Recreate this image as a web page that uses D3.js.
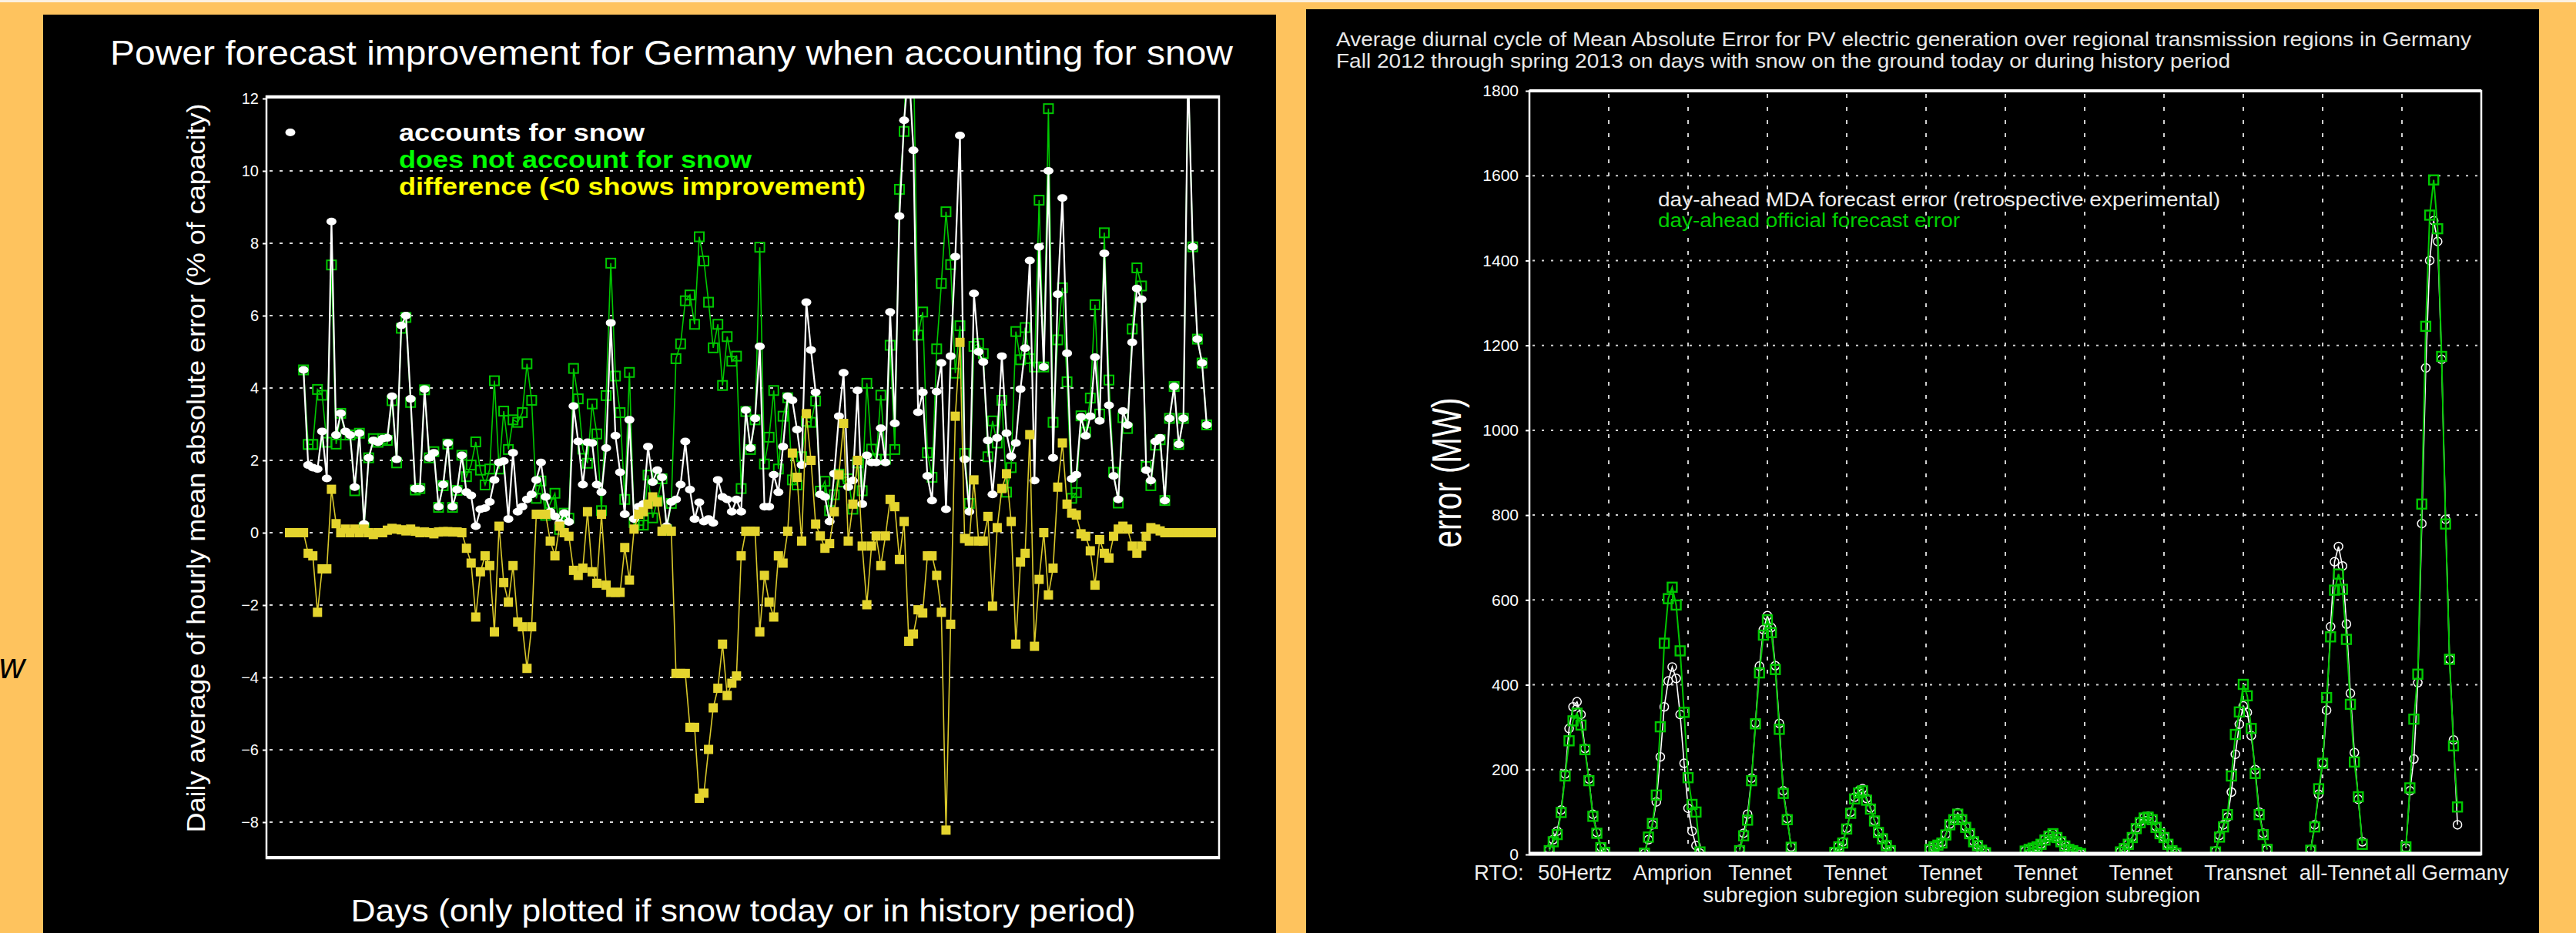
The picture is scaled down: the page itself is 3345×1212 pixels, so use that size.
<!DOCTYPE html>
<html>
<head>
<meta charset="utf-8">
<script src="https://cdn.jsdelivr.net/npm/d3@7"></script>
<style>
  html, body { margin: 0; padding: 0; background: #FEC35E; }
  svg { display: block; }
</style>
</head>
<body>
<svg id="chart" width="3345" height="1212"></svg>
<script>
// ---------- Left panel: daily mean absolute error (% of capacity) ----------
const accountsForSnow = [
  null, null, null, 4.5, 1.87, 1.8, 1.76, 2.8, 1.5, 8.6,
  2.7, 3.3, 2.8, 2.7, 1.26, 2.75, 0.24, 2.07, 2.55, 2.5,
  2.6, 2.62, 3.77, 2.03, 5.73, 6.0, 3.7, 1.22, 1.22, 3.97,
  2.07, 2.21, 0.72, 1.33, 2.48, 0.72, 1.19, 2.14, 1.12, 1.03,
  0.18, 0.65, 0.68, 0.85, 1.46, 1.94, 1.98, 0.38, 2.21, 0.58,
  0.72, 0.92, 1.06, 1.46, 1.94, 0.99, 0.58, 0.45, 0.27, 0.54,
  0.3, 3.5, 2.52, 1.33, 2.5, 2.48, 1.33, 1.12, 2.34, 5.8,
  2.68, 1.67, 0.51, 3.12, 0.38, 0.72, 0.79, 2.38, 1.4, 1.73,
  1.53, 0.18, 0.85, 0.92, 1.33, 2.52, 1.19, 0.38, 0.84, 0.31,
  0.38, 0.27, 1.46, 0.99, 0.92, 0.58, 0.92, 0.58, 3.39, 2.34,
  3.16, 5.15, 0.72, 0.72, 1.6, 1.12, 2.38, 3.77, 3.66, 2.85,
  1.87, 6.37, 5.05, 3.88, 1.06, 0.99, 0.31, 1.63, 3.22, 4.42,
  1.26, 1.44, 3.93, 0.79, 2.14, 1.94, 1.94, 2.89, 1.94, 6.1,
  3.02, 8.75, 11.4, 12.9, 10.57, 3.33, 3.88, 1.57, 0.89, 3.9,
  4.69, 0.65, 4.88, 7.63, 10.98, 2.03, 0.58, 6.61, 5.0, 4.72,
  2.55, 1.06, 2.62, 4.88, 2.75, 2.11, 2.48, 3.97, 5.1, 7.52,
  1.44, 7.9, 4.58, 10.0, 2.07, 6.59, 9.25, 4.96, 1.49, 1.6,
  3.2, 2.68, 3.22, 4.85, 3.09, 7.72, 3.52, 1.57, 0.92, 3.36,
  2.98, 5.26, 6.75, 6.45, 1.73, 1.44, 2.52, 2.62, 0.89, 3.16,
  4.04, 2.44, 3.16, 12.8, 7.9, 5.35, 4.69, 2.98, null
];
const withoutSnow = [
  null, null, null, 4.5, 2.44, 2.44, 3.96, 3.8, 2.5, 7.4,
  2.45, 3.3, 2.7, 2.7, 1.16, 2.75, 0.14, 2.07, 2.6, 2.5,
  2.6, 2.55, 3.65, 1.93, 5.65, 5.95, 3.6, 1.18, 1.22, 3.95,
  2.07, 2.24, 0.7, 1.3, 2.45, 0.7, 1.17, 2.14, 1.55, 1.87,
  2.51, 1.73, 1.32, 1.76, 4.2, 1.76, 3.36, 2.3, 3.12, 3.05,
  3.32, 4.67, 3.66, 0.95, 1.43, 0.48, 0.81, 1.09, 0.09, 0.54,
  0.4, 4.54, 3.7, 2.31, 1.92, 3.56, 2.73, 0.61, 3.79, 7.45,
  4.33, 3.32, 0.92, 4.43, 0.28, 0.21, 0.21, 1.59, 0.41, 0.88,
  1.49, 0.08, 0.81, 4.81, 5.22, 6.41, 6.57, 5.76, 8.18, 7.51,
  6.37, 5.11, 5.76, 4.07, 5.42, 4.74, 4.88, 1.22, 3.35, 2.3,
  3.12, 7.89, 1.9, 2.64, 3.93, 1.76, 3.22, 3.73, 1.46, 1.32,
  2.1, 3.08, 3.05, 3.64, 1.15, 1.42, 0.61, 1.05, 1.62, 1.4,
  1.49, 0.65, 1.93, 1.16, 4.13, 2.31, 2.03, 3.8, 2.03, 5.18,
  2.3, 9.49, 11.09, 15.9, 13.37, 5.46, 6.1, 2.21, 1.53, 5.08,
  6.89, 8.87, 7.41, 4.41, 5.72, 2.19, 0.81, 5.15, 5.23, 4.95,
  2.1, 3.09, 2.48, 3.66, 1.12, 1.8, 5.56, 4.78, 5.67, 4.81,
  4.58, 9.19, 4.58, 11.72, 3.05, 5.33, 6.77, 4.17, 0.95, 1.11,
  3.23, 2.78, 3.72, 6.3, 3.28, 8.29, 4.22, 1.67, 0.82, 3.18,
  2.88, 5.63, 7.32, 6.82, 1.83, 1.3, 2.42, 2.57, 0.89, 3.16,
  4.04, 2.44, 3.16, 12.8, 7.9, 5.35, 4.69, 2.98, null
];
const difference = [
  0, 0, 0, 0, -0.57, -0.64, -2.2, -1.0, -1.0, 1.2,
  0.25, 0, 0.1, 0, 0.1, 0, 0.1, 0, -0.05, 0,
  0, 0.07, 0.12, 0.1, 0.08, 0.05, 0.1, 0.04, 0, 0.02,
  0, -0.03, 0.02, 0.03, 0.03, 0.02, 0.02, 0, -0.43, -0.84,
  -2.33, -1.08, -0.64, -0.91, -2.74, 0.18, -1.38, -1.92, -0.91, -2.47,
  -2.6, -3.75, -2.6, 0.51, 0.51, 0.51, -0.23, -0.64, 0.18, 0,
  -0.1, -1.04, -1.18, -0.98, 0.58, -1.08, -1.4, 0.51, -1.45, -1.65,
  -1.65, -1.65, -0.41, -1.31, 0.1, 0.51, 0.58, 0.79, 0.99, 0.85,
  0.04, 0.1, 0.04, -3.89, -3.89, -3.89, -5.38, -5.38, -7.34, -7.2,
  -5.99, -4.84, -4.3, -3.08, -4.5, -4.16, -3.96, -0.64, 0.04, 0.04,
  0.04, -2.74, -1.18, -1.92, -2.33, -0.64, -0.84, 0.04, 2.2, 1.53,
  -0.23, 3.29, 2.0, 0.24, -0.09, -0.43, -0.3, 0.58, 1.6, 3.02,
  -0.23, 0.79, 2.0, -0.37, -1.99, -0.37, -0.09, -0.91, -0.09, 0.92,
  0.72, -0.74, 0.31, -3.0, -2.8, -2.13, -2.22, -0.64, -0.64, -1.18,
  -2.2, -8.22, -2.53, 3.22, 5.26, -0.16, -0.23, 1.46, -0.23, -0.23,
  0.45, -2.03, 0.14, 1.22, 1.63, 0.31, -3.08, -0.81, -0.57, 2.71,
  -3.14, -1.29, 0, -1.72, -0.98, 1.26, 2.48, 0.79, 0.54, 0.49,
  -0.03, -0.1, -0.5, -1.45, -0.19, -0.57, -0.7, -0.1, 0.1, 0.18,
  0.1, -0.37, -0.57, -0.37, -0.1, 0.14, 0.1, 0.05, 0, 0,
  0, 0, 0, 0, 0, 0, 0, 0, 0
];
const leftTicks = [12, 10, 8, 6, 4, 2, 0, -2, -4, -6, -8];

// ---------- Right panel: diurnal cycle of MAE (MW), hours 0-23 per region ----------
const regionNames = ["50Hertz", "Amprion", "Tennet", "Tennet", "Tennet", "Tennet", "Tennet", "Transnet", "all-Tennet", "all Germany"];
const regionSubNames = ["", "", "subregion", "subregion", "subregion", "subregion", "subregion", "", "", ""];
const mdaError = [
  [0,0,0,0,0,12,35,55,105,190,297,348,360,330,250,178,95,52,18,5,0,0,0,0],
  [0,0,0,0,0,3,35,70,124,230,348,409,442,415,330,215,109,55,21,3,0,0,0,0],
  [0,0,0,0,0,12,50,95,180,310,444,530,563,535,445,309,150,85,18,0,0,0,0,0],
  [0,0,0,0,0,6,20,30,62,100,135,150,155,132,110,80,53,38,22,9,0,0,0,0],
  [0,0,0,0,0,12,19,24,29,48,72,85,98,85,66,50,31,22,11,4,0,0,0,0],
  [0,0,0,0,0,8,13,16,19,25,36,45,50,42,31,21,13,9,5,2,0,0,0,0],
  [0,0,0,0,0,7,15,25,42,63,78,88,90,84,66,50,41,25,10,3,0,0,0,0],
  [0,0,0,0,0,8,45,70,88,147,236,307,350,335,280,200,100,50,12,0,0,0,0,0],
  [0,0,0,0,0,12,70,142,216,340,537,690,726,680,543,380,240,130,30,0,0,0,0,0],
  [0,0,0,0,0,15,150,225,405,780,1147,1400,1494,1445,1167,790,460,270,70,0,0,0,0,0]
];
const officialError = [
  [0,0,0,0,0,9,30,47,99,185,268,315,333,305,247,174,90,50,16,5,0,0,0,0],
  [0,0,0,0,0,3,41,73,140,301,498,603,630,588,480,335,181,118,100,6,0,0,0,0],
  [0,0,0,0,0,9,44,81,174,308,428,517,553,523,436,295,144,82,17,0,0,0,0,0],
  [0,0,0,0,0,5,18,27,60,97,131,145,150,128,107,79,52,37,21,9,0,0,0,0],
  [0,0,0,0,0,12,18,22,27,46,70,82,95,82,64,49,30,21,10,4,0,0,0,0],
  [0,0,0,0,0,8,12,15,18,24,34,43,49,40,30,20,12,9,5,2,0,0,0,0],
  [0,0,0,0,0,6,14,24,40,61,75,86,88,82,64,49,40,24,9,3,0,0,0,0],
  [0,0,0,0,0,6,41,65,94,185,283,336,401,374,297,191,94,47,12,0,0,0,0,0],
  [0,0,0,0,0,10,65,155,215,370,513,623,661,625,507,354,218,136,24,0,0,0,0,0],
  [0,0,0,0,0,18,157,319,425,826,1245,1507,1590,1475,1174,779,460,256,112,0,0,0,0,0]
];
const rightTicks = [0, 200, 400, 600, 800, 1000, 1200, 1400, 1600, 1800];

// ---------- drawing ----------
const FONT = "'Liberation Sans', Arial, Helvetica, sans-serif";
const svg = d3.select("#chart");

svg.append("rect").attr("width", 3345).attr("height", 1212).attr("fill", "#FEC35E");
svg.append("rect").attr("width", 3345).attr("height", 3).attr("fill", "#FBF1E2");
svg.append("rect").attr("x", 56).attr("y", 19).attr("width", 1601).attr("height", 1193).attr("fill", "#000");
svg.append("rect").attr("x", 1696).attr("y", 12).attr("width", 1601).attr("height", 1200).attr("fill", "#000");

// stray caption fragment at far left edge
svg.append("text").attr("x", 32).attr("y", 881).attr("text-anchor", "end")
  .attr("font-family", FONT).attr("font-style", "italic").attr("font-size", 46)
  .attr("fill", "#000").text("w");

// ===== Left panel =====
const L = { left: 346, right: 1583, top: 125, bottom: 1115 };
const dayIdx = d3.range(difference.length);
const xL = d3.scaleLinear().domain([0, difference.length - 1]).range([376, 1573]);
const yL = d3.scaleLinear().domain([-9, 12]).range([1115, 128]);

svg.append("text").attr("x", 143).attr("y", 84)
  .attr("font-family", FONT).attr("font-size", 44).attr("fill", "#fff")
  .attr("textLength", 1458).attr("lengthAdjust", "spacingAndGlyphs")
  .text("Power forecast improvement for Germany when accounting for snow");

// grid + tick labels
const gL = svg.append("g").attr("transform", `translate(${L.left},0)`)
  .call(d3.axisLeft(yL).tickValues(leftTicks).tickFormat(d3.format("d")).tickSize(5).tickPadding(5));
gL.select(".domain").remove();
gL.selectAll(".tick line").attr("stroke", "#fff").attr("stroke-width", 2);
gL.selectAll(".tick text").attr("fill", "#fff").attr("font-family", FONT).attr("font-size", 20);
svg.append("g").selectAll("line").data(leftTicks.filter(t => t !== 12)).join("line")
  .attr("x1", L.left + 4).attr("x2", L.right - 2)
  .attr("y1", d => yL(d)).attr("y2", d => yL(d))
  .attr("stroke", "#d8d8d8").attr("stroke-width", 2).attr("stroke-dasharray", "4,9");

svg.append("defs").append("clipPath").attr("id", "clipL")
  .append("rect").attr("x", L.left).attr("y", L.top).attr("width", L.right - L.left).attr("height", L.bottom - L.top);
svg.select("defs").append("clipPath").attr("id", "clipR")
  .append("rect").attr("x", 1986).attr("y", 118).attr("width", 1236).attr("height", 992);

const plotL = svg.append("g").attr("clip-path", "url(#clipL)");
const seriesL = (arr) => dayIdx.map(i => ({ i, v: arr[i] }));
const lineL = d3.line().defined(d => d.v !== null).x(d => xL(d.i)).y(d => yL(d.v));

// does not account for snow (green open squares)
const gSer = seriesL(withoutSnow);
plotL.append("path").datum(gSer).attr("d", lineL).attr("fill", "none")
  .attr("stroke", "#00C800").attr("stroke-width", 1.6);
plotL.append("g").selectAll("rect").data(gSer.filter(d => d.v !== null)).join("rect")
  .attr("x", d => xL(d.i) - 6).attr("y", d => yL(d.v) - 6).attr("width", 12).attr("height", 12)
  .attr("fill", "none").attr("stroke", "#00C800").attr("stroke-width", 2);

// accounts for snow (white dots)
const wSer = seriesL(accountsForSnow);
plotL.append("path").datum(wSer).attr("d", lineL).attr("fill", "none")
  .attr("stroke", "#fff").attr("stroke-width", 2.2);
plotL.append("g").selectAll("ellipse").data(wSer.filter(d => d.v !== null)).join("ellipse")
  .attr("cx", d => xL(d.i)).attr("cy", d => yL(d.v)).attr("rx", 6.5).attr("ry", 5)
  .attr("fill", "#fff");

// difference (yellow filled squares)
const ySer = seriesL(difference);
plotL.append("path").datum(ySer).attr("d", lineL).attr("fill", "none")
  .attr("stroke", "#D9C82A").attr("stroke-width", 1.6);
plotL.append("g").selectAll("rect").data(ySer).join("rect")
  .attr("x", d => xL(d.i) - 6).attr("y", d => yL(d.v) - 6).attr("width", 12).attr("height", 12)
  .attr("fill", "#E4D42E");

// frame
svg.append("rect").attr("x", L.left).attr("y", L.top).attr("width", L.right - L.left).attr("height", L.bottom - L.top)
  .attr("fill", "none").attr("stroke", "#fff").attr("stroke-width", 2.5);
svg.append("line").attr("x1", L.left).attr("x2", L.right).attr("y1", L.top + 1).attr("y2", L.top + 1)
  .attr("stroke", "#fff").attr("stroke-width", 4);
svg.append("line").attr("x1", L.left).attr("x2", L.right).attr("y1", L.bottom - 1).attr("y2", L.bottom - 1)
  .attr("stroke", "#fff").attr("stroke-width", 4);

// legend
svg.append("ellipse").attr("cx", 377).attr("cy", 172).attr("rx", 6.5).attr("ry", 5).attr("fill", "#fff");
const legL = [
  { t: "accounts for snow", c: "#ffffff", y: 183, w: 319 },
  { t: "does not account for snow", c: "#00FF00", y: 218, w: 458 },
  { t: "difference (<0 shows improvement)", c: "#FFFF00", y: 253, w: 606 }
];
svg.append("g").selectAll("text").data(legL).join("text")
  .attr("x", 518).attr("y", d => d.y).attr("fill", d => d.c)
  .attr("font-family", FONT).attr("font-weight", "bold").attr("font-size", 32)
  .attr("textLength", d => d.w).attr("lengthAdjust", "spacingAndGlyphs")
  .text(d => d.t);

// axis titles
svg.append("text").attr("transform", "translate(266,608) rotate(-90)")
  .attr("text-anchor", "middle").attr("fill", "#fff").attr("font-family", FONT).attr("font-size", 34)
  .attr("textLength", 947).attr("lengthAdjust", "spacingAndGlyphs")
  .text("Daily average of hourly mean absolute error (% of capacity)");
svg.append("text").attr("x", 965).attr("y", 1197)
  .attr("text-anchor", "middle").attr("fill", "#fff").attr("font-family", FONT).attr("font-size", 40)
  .attr("textLength", 1019).attr("lengthAdjust", "spacingAndGlyphs")
  .text("Days (only plotted if snow today or in history period)");

// ===== Right panel =====
const R = { left: 1986, right: 3222, top: 118, bottom: 1110 };
const hoursPerRegion = 24;
const xR = d3.scaleLinear().domain([0, regionNames.length * hoursPerRegion]).range([R.left, R.right]);
const yR = d3.scaleLinear().domain([0, 1800]).range([R.bottom, R.top]);

const titleR = [
  { t: "Average diurnal cycle of Mean Absolute Error for PV electric generation over regional transmission regions in Germany", y: 60, w: 1474 },
  { t: "Fall 2012 through spring 2013 on days with snow on the ground today or during history period", y: 88, w: 1161 }
];
svg.append("g").selectAll("text").data(titleR).join("text")
  .attr("x", 1735).attr("y", d => d.y).attr("fill", "#e8e8e8")
  .attr("font-family", FONT).attr("font-size", 25)
  .attr("textLength", d => d.w).attr("lengthAdjust", "spacingAndGlyphs")
  .text(d => d.t);

// grid
svg.append("g").selectAll("line").data(rightTicks.filter(t => t > 0 && t < 1800)).join("line")
  .attr("x1", R.left + 4).attr("x2", R.right - 2).attr("y1", d => yR(d)).attr("y2", d => yR(d))
  .attr("stroke", "#d0d0d0").attr("stroke-width", 2).attr("stroke-dasharray", "3,9");
svg.append("g").selectAll("line").data(d3.range(20, 240, 20)).join("line")
  .attr("x1", d => xR(d)).attr("x2", d => xR(d)).attr("y1", R.top + 4).attr("y2", R.bottom - 2)
  .attr("stroke", "#d0d0d0").attr("stroke-width", 2).attr("stroke-dasharray", "5,12");

const gR = svg.append("g").attr("transform", `translate(${R.left},0)`)
  .call(d3.axisLeft(yR).tickValues(rightTicks).tickFormat(d3.format("d")).tickSize(5).tickPadding(9));
gR.select(".domain").remove();
gR.selectAll(".tick line").attr("stroke", "#fff").attr("stroke-width", 2);
gR.selectAll(".tick text").attr("fill", "#fff").attr("font-family", FONT).attr("font-size", 21);

const flat = (arr) => arr.flatMap((hrs, r) => hrs.map((v, h) => ({ hour: r * hoursPerRegion + h, v })));
const lineR = d3.line().defined(d => d.v > 0).x(d => xR(d.hour)).y(d => yR(d.v));
const plotR = svg.append("g").attr("clip-path", "url(#clipR)");

const mda = flat(mdaError);
plotR.append("path").datum(mda).attr("d", lineR).attr("fill", "none")
  .attr("stroke", "#fff").attr("stroke-width", 1.6);
plotR.append("g").selectAll("circle").data(mda.filter(d => d.v > 0)).join("circle")
  .attr("cx", d => xR(d.hour)).attr("cy", d => yR(d.v)).attr("r", 5.5)
  .attr("fill", "none").attr("stroke", "#fff").attr("stroke-width", 1.5);

const off = flat(officialError);
plotR.append("path").datum(off).attr("d", lineR).attr("fill", "none")
  .attr("stroke", "#00C800").attr("stroke-width", 2);
plotR.append("g").selectAll("rect").data(off.filter(d => d.v > 0)).join("rect")
  .attr("x", d => xR(d.hour) - 6).attr("y", d => yR(d.v) - 6).attr("width", 12).attr("height", 12)
  .attr("fill", "none").attr("stroke", "#00C800").attr("stroke-width", 2.4);

// frame
svg.append("rect").attr("x", R.left).attr("y", R.top).attr("width", R.right - R.left).attr("height", R.bottom - R.top)
  .attr("fill", "none").attr("stroke", "#fff").attr("stroke-width", 2.5);
svg.append("line").attr("x1", R.left).attr("x2", R.right).attr("y1", R.top).attr("y2", R.top)
  .attr("stroke", "#fff").attr("stroke-width", 4);
svg.append("line").attr("x1", R.left).attr("x2", R.right).attr("y1", R.bottom - 1).attr("y2", R.bottom - 1)
  .attr("stroke", "#fff").attr("stroke-width", 5);

// legend
const legR = [
  { t: "day-ahead MDA forecast error (retrospective experimental)", c: "#ececec", y: 268, w: 730 },
  { t: "day-ahead official forecast error", c: "#00D000", y: 295, w: 392 }
];
svg.append("g").selectAll("text").data(legR).join("text")
  .attr("x", 2153).attr("y", d => d.y).attr("fill", d => d.c)
  .attr("font-family", FONT).attr("font-size", 25)
  .attr("textLength", d => d.w).attr("lengthAdjust", "spacingAndGlyphs")
  .text(d => d.t);

// category labels: each name starts just inside its region's left edge
const LABEL_FONT = 27.5;
svg.append("text").attr("x", 1914).attr("y", 1143).attr("fill", "#eee")
  .attr("font-family", FONT).attr("font-size", LABEL_FONT).text("RTO:");
svg.append("g").selectAll("text").data(regionNames).join("text")
  .attr("x", (d, i) => xR(i * hoursPerRegion) + 11).attr("y", 1143)
  .attr("fill", "#eee").attr("font-family", FONT).attr("font-size", LABEL_FONT).text(d => d);
// second label line, written as one run beneath the Tennet subregions
const firstSub = regionSubNames.findIndex(s => s !== "");
svg.append("text")
  .attr("x", xR(firstSub * hoursPerRegion) - 22).attr("y", 1172)
  .attr("fill", "#eee").attr("font-family", FONT).attr("font-size", LABEL_FONT)
  .attr("textLength", 646).attr("lengthAdjust", "spacingAndGlyphs")
  .text(regionSubNames.filter(s => s !== "").join(" "));

svg.append("text").attr("transform", "translate(1897,614) rotate(-90)")
  .attr("text-anchor", "middle").attr("fill", "#fff").attr("font-family", FONT).attr("font-size", 54)
  .attr("textLength", 195).attr("lengthAdjust", "spacingAndGlyphs")
  .text("error (MW)");
</script>
</body>
</html>
